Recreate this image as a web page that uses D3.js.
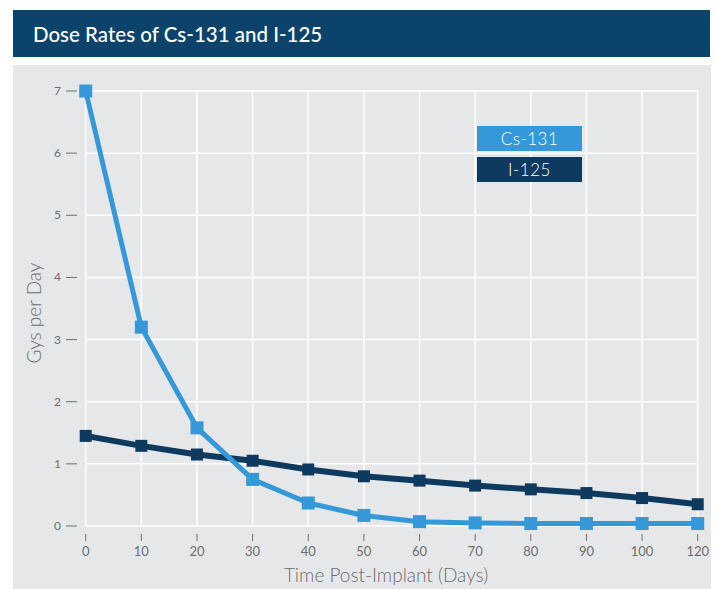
<!DOCTYPE html>
<html>
<head>
<meta charset="utf-8">
<script src="https://cdn.jsdelivr.net/npm/d3@7"></script>
<style>
  html, body { margin: 0; padding: 0; background: #fff; }
  svg { display: block; font-family: "Lato", "Open Sans", sans-serif; }
</style>
</head>
<body>
<script>
// chart data
var days = [0, 10, 20, 30, 40, 50, 60, 70, 80, 90, 100, 120];
var cs131 = [7.0, 3.2, 1.58, 0.75, 0.37, 0.17, 0.07, 0.05, 0.04, 0.04, 0.04, 0.04];
var i125 = [1.45, 1.29, 1.15, 1.05, 0.91, 0.80, 0.73, 0.65, 0.59, 0.53, 0.45, 0.35];
var yTicks = [0, 1, 2, 3, 4, 5, 6, 7];
var seriesNames = ["Cs-131", "I-125"];

var width = 716, height = 589;
var lightBlue = "#3598d8", navy = "#0d3a5e";
var textGrey = "#6d6e70";

var svg = d3.select("body").append("svg")
    .attr("width", width)
    .attr("height", height);

// title bar
svg.append("rect")
    .attr("x", 13).attr("y", 10)
    .attr("width", 697).attr("height", 47)
    .attr("fill", "#0b436b");

svg.append("text")
    .attr("x", 33).attr("y", 42)
    .attr("fill", "#fff")
    .attr("font-size", 20.5)
    .attr("font-weight", 500)
    .text("Dose Rates of Cs-131 and I-125");

// grey panel
svg.append("rect")
    .attr("x", 13).attr("y", 65)
    .attr("width", 698).attr("height", 524)
    .attr("fill", "#e6e7e8");

var x = d3.scalePoint()
    .domain(days)
    .range([85.7, 697.7]);

var y = d3.scaleLinear()
    .domain([0, 7])
    .range([526, 91]);

var g = svg.append("g");

// grid
g.selectAll("line.vgrid")
    .data(days)
    .enter().append("line")
    .attr("class", "vgrid")
    .attr("x1", function(d) { return x(d); })
    .attr("x2", function(d) { return x(d); })
    .attr("y1", y(0)).attr("y2", y(7))
    .attr("stroke", "#fff").attr("stroke-width", 1.5);

g.selectAll("line.hgrid")
    .data(yTicks)
    .enter().append("line")
    .attr("class", "hgrid")
    .attr("x1", x(0)).attr("x2", x(120))
    .attr("y1", function(d) { return y(d); })
    .attr("y2", function(d) { return y(d); })
    .attr("stroke", "#fff").attr("stroke-width", 1.5);

// y axis ticks (dash + label)
g.selectAll("line.ytick")
    .data(yTicks)
    .enter().append("line")
    .attr("x1", 66).attr("x2", 77)
    .attr("y1", function(d) { return y(d); })
    .attr("y2", function(d) { return y(d); })
    .attr("stroke", textGrey).attr("stroke-width", 1);

g.selectAll("text.ylab")
    .data(yTicks)
    .enter().append("text")
    .attr("x", 61)
    .attr("y", function(d) { return y(d) + 4; })
    .attr("text-anchor", "end")
    .attr("font-size", 12)
    .attr("fill", textGrey)
    .text(function(d) { return d; });

// x axis ticks
g.selectAll("line.xtick")
    .data(days)
    .enter().append("line")
    .attr("x1", function(d) { return x(d); })
    .attr("x2", function(d) { return x(d); })
    .attr("y1", 534).attr("y2", 541)
    .attr("stroke", textGrey).attr("stroke-width", 1);

g.selectAll("text.xlab")
    .data(days)
    .enter().append("text")
    .attr("x", function(d) { return x(d); })
    .attr("y", 556)
    .attr("text-anchor", "middle")
    .attr("font-size", 13)
    .attr("fill", textGrey)
    .text(function(d) { return d; });

// axis titles
svg.append("text")
    .attr("x", 386).attr("y", 582)
    .attr("text-anchor", "middle")
    .attr("font-size", 19)
    .attr("font-weight", 300)
    .attr("fill", textGrey)
    .text("Time Post-Implant (Days)");

svg.append("text")
    .attr("transform", "translate(41,313) rotate(-90)")
    .attr("text-anchor", "middle")
    .attr("font-size", 19)
    .attr("font-weight", 300)
    .attr("fill", textGrey)
    .text("Gys per Day");

// series
var line = d3.line()
    .x(function(d, i) { return x(days[i]); })
    .y(function(d) { return y(d); });

function drawSeries(values, color, lw, size) {
    svg.append("path")
        .datum(values)
        .attr("d", line)
        .attr("fill", "none")
        .attr("stroke", color)
        .attr("stroke-width", lw)
        .attr("stroke-linejoin", "round");

    svg.append("g").selectAll("rect")
        .data(values)
        .enter().append("rect")
        .attr("x", function(d, i) { return x(days[i]) - size / 2; })
        .attr("y", function(d) { return y(d) - size / 2; })
        .attr("width", size).attr("height", size)
        .attr("fill", color);
}

drawSeries(i125, navy, 6, 12);
drawSeries(cs131, lightBlue, 5, 13);

// legend
var legend = svg.append("g");
var legendColors = [lightBlue, navy];
legend.selectAll("rect")
    .data(seriesNames)
    .enter().append("rect")
    .attr("x", 477)
    .attr("y", function(d, i) { return 126 + i * 31; })
    .attr("width", 105).attr("height", 25)
    .attr("fill", function(d, i) { return legendColors[i]; });

legend.selectAll("text")
    .data(seriesNames)
    .enter().append("text")
    .attr("x", 529.5)
    .attr("y", function(d, i) { return 144.5 + i * 31; })
    .attr("text-anchor", "middle")
    .attr("font-size", 17)
    .attr("font-weight", 300)
    .attr("letter-spacing", 0.5)
    .attr("fill", "#fff")
    .text(function(d) { return d; });
</script>
</body>
</html>
